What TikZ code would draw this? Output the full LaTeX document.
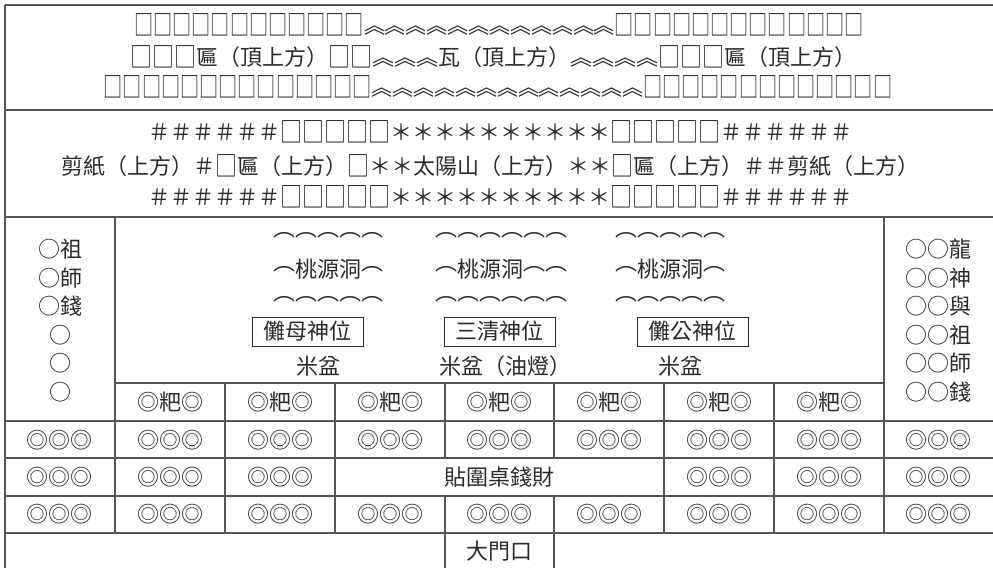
\documentclass[tikz,border=0pt]{standalone}
\usepackage{fontspec}
\setmainfont{Noto Sans CJK TC}
\definecolor{gridc}{HTML}{555555}
\definecolor{txtc}{HTML}{2A2A2A}
\newcommand{\bx}{\raisebox{-0.1em}{\scalebox{0.87}[1.28]{□}}}
\newcommand{\fb}{\raisebox{-0.1em}{\scalebox{1}[1.28]{□}}}
\newcommand{\cv}{\scalebox{0.95}[1]{︽}}
\newcommand{\arcup}{\smash{\raisebox{0.3em}{︵}}}
\begin{document}
\begin{tikzpicture}[x=1pt,y=-1pt,
  grid/.style={draw=gridc,line width=1.5pt},
  txt/.style={inner sep=0pt,text=txtc,font=\fontsize{22}{26}\selectfont},
  namebox/.style={txt,draw=txtc,line width=0.9pt,minimum width=111pt,minimum height=29pt}]
\useasboundingbox (0,0) rectangle (993,568);
% grid lines
\draw[grid] (5,5) -- (993,5);
\draw[grid] (5,110) -- (993,110);
\draw[grid] (5,217) -- (993,217);
\draw[grid] (115,383) -- (884,383);
\foreach \y in {421,458,496,533} \draw[grid] (5,\y) -- (993,\y);
\draw[grid] (5,5) -- (5,568);
\draw[grid] (115,217) -- (115,533);
\draw[grid] (884,217) -- (884,533);
\foreach \x in {225,335,664,774} \draw[grid] (\x,383) -- (\x,533);
\foreach \x in {445,554} {\draw[grid] (\x,383) -- (\x,458); \draw[grid] (\x,496) -- (\x,568);}
% section 1
\node[txt] (t1a) at (499,25) {\bx\bx\bx\bx\bx\bx\bx\bx\bx\bx\bx\bx\cv\cv\cv\cv\cv\cv\cv\cv\cv\cv\cv\cv\bx\bx\bx\bx\bx\bx\bx\bx\bx\bx\bx\bx\bx};
\node[txt] (t1b) at (493,57) {\fb\fb\fb{}匾（頂上方）\fb\fb{}︽︽︽瓦（頂上方）︽︽︽︽\fb\fb\fb{}匾（頂上方）};
\node[txt] (t1c) at (498,87) {\bx\bx\bx\bx\bx\bx\bx\bx\bx\bx\bx\bx\bx\bx\cv\cv\cv\cv\cv\cv\cv\cv\cv\cv\cv\cv\cv\bx\bx\bx\bx\bx\bx\bx\bx\bx\bx\bx\bx\bx};
% section 2
\node[txt] (t2a) at (500,132) {＃＃＃＃＃＃\fb\fb\fb\fb\fb{}＊＊＊＊＊＊＊＊＊＊\fb\fb\fb\fb\fb{}＃＃＃＃＃＃};
\node[txt] (t2b) at (490,166) {剪紙（上方）＃\fb{}匾（上方）\fb{}＊＊太陽山（上方）＊＊\fb{}匾（上方）＃＃剪紙（上方）};
\node[txt] (t2c) at (500,197) {＃＃＃＃＃＃\fb\fb\fb\fb\fb{}＊＊＊＊＊＊＊＊＊＊\fb\fb\fb\fb\fb{}＃＃＃＃＃＃};
% side columns
\foreach \s/\r [count=\i] in {○祖/○○龍,○師/○○神,○錢/○○與,○/○○祖,○/○○師,○/○○錢} {
  \node[txt] (L\i) at (60,221+28.5*\i) {\s};
  \node[txt] (R\i) at (938.5,221+28.5*\i) {\r};
}
% altar groups
\node[txt] (g1a) at (328,235) {︵︵︵︵︵};
\node[txt] (g1b) at (328,269) {\arcup{}桃源洞\arcup};
\node[txt] (g1c) at (328,299) {︵︵︵︵︵};
\node[txt] (g2a) at (501,235) {︵︵︵︵︵︵};
\node[txt] (g2b) at (501,269) {\arcup{}桃源洞\arcup\arcup};
\node[txt] (g2c) at (501,299) {︵︵︵︵︵︵};
\node[txt] (g3a) at (670,235) {︵︵︵︵︵};
\node[txt] (g3b) at (670,269) {\arcup{}桃源洞\arcup};
\node[txt] (g3c) at (670,299) {︵︵︵︵︵};
\node[namebox] (b1) at (307.5,331.5) {儺母神位};
\node[namebox] (b2) at (499.5,331.5) {三清神位};
\node[namebox] (b3) at (692.5,331.5) {儺公神位};
\node[txt] (m1) at (318,366) {米盆};
\node[txt] (m2) at (505,366) {米盆（油燈）};
\node[txt] (m3) at (680,366) {米盆};
% ba row
\foreach \x [count=\i] in {170,280,390,499.5,609,719,829}
  \node[txt] (ba\i) at (\x,402) {◎粑◎};
% coin rows
\foreach \x [count=\i] in {60,170,280,390,499.5,609,719,829,938.5} {
  \node[txt] (ra\i) at (\x,440) {◎◎◎};
  \node[txt] (rc\i) at (\x,514.5) {◎◎◎};
}
\foreach \x [count=\i] in {60,170,280,719,829,938.5}
  \node[txt] (rb\i) at (\x,477) {◎◎◎};
\node[txt] (tie) at (499.5,477) {貼圍桌錢財};
\node[txt] (door) at (499.5,551) {大門口};
\end{tikzpicture}
\end{document}
